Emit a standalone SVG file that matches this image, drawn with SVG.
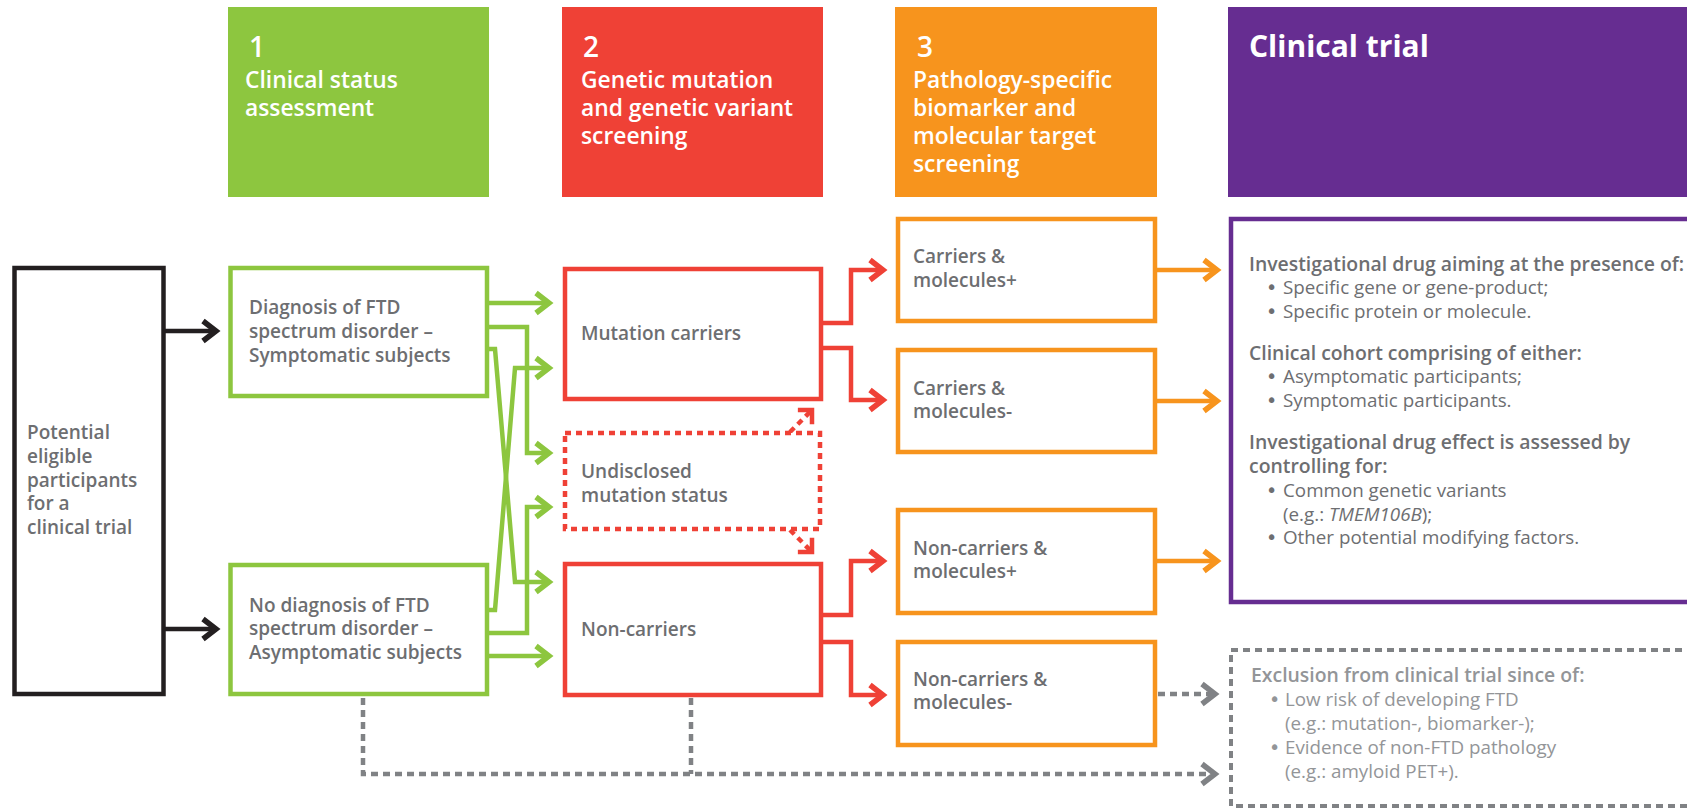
<svg xmlns="http://www.w3.org/2000/svg" width="1687" height="809" viewBox="0 0 1687 809">
<style>
.hdr{font-family:"Open Sans","Liberation Sans",sans-serif;font-weight:600;fill:#ffffff;font-size:22.8px}
.num{font-size:28px}
.big{font-size:30px;font-weight:700}
.lbl{font-family:"Open Sans","Liberation Sans",sans-serif;font-weight:600;fill:#6d6e71;font-size:19px}
.body{font-family:"Open Sans","Liberation Sans",sans-serif;fill:#6d6e71;font-size:18.8px}
.b{font-weight:600;font-size:19.4px}
.bul{font-size:19px;font-family:"DejaVu Sans",sans-serif}
.ex{fill:#939598}
.box{fill:#ffffff;stroke-width:4.5}
.conn{fill:none;stroke-width:4.5;stroke-linejoin:miter}
</style>
<defs>
<marker id="aK" markerUnits="userSpaceOnUse" viewBox="-20 -16 26 32" refX="0" refY="0" markerWidth="26" markerHeight="32" orient="auto"><path d="M-13,-10 L0,0 L-13,10" fill="none" stroke="#231f20" stroke-width="5.5"/></marker>
<marker id="aG" markerUnits="userSpaceOnUse" viewBox="-20 -16 26 32" refX="0" refY="0" markerWidth="26" markerHeight="32" orient="auto"><path d="M-13,-10 L0,0 L-13,10" fill="none" stroke="#8dc63f" stroke-width="5.5"/></marker>
<marker id="aR" markerUnits="userSpaceOnUse" viewBox="-20 -16 26 32" refX="0" refY="0" markerWidth="26" markerHeight="32" orient="auto"><path d="M-13,-10 L0,0 L-13,10" fill="none" stroke="#ef4136" stroke-width="5.5"/></marker>
<marker id="aRd" markerUnits="userSpaceOnUse" viewBox="-20 -16 26 32" refX="0" refY="0" markerWidth="26" markerHeight="32" orient="auto"><path d="M-10,-10 L0,0 L-10,10" fill="none" stroke="#ef4136" stroke-width="4.5"/></marker>
<marker id="aO" markerUnits="userSpaceOnUse" viewBox="-20 -16 26 32" refX="0" refY="0" markerWidth="26" markerHeight="32" orient="auto"><path d="M-13,-10 L0,0 L-13,10" fill="none" stroke="#f7941d" stroke-width="5.5"/></marker>
<marker id="aY" markerUnits="userSpaceOnUse" viewBox="-20 -16 26 32" refX="0" refY="0" markerWidth="26" markerHeight="32" orient="auto"><path d="M-13,-10 L0,0 L-13,10" fill="none" stroke="#808285" stroke-width="5.5"/></marker>
</defs>
<rect width="1687" height="809" fill="#ffffff"/>

<!-- headers -->
<g id="header1">
<rect x="228" y="7" width="261" height="190" fill="#8dc63f"/>
<text class="hdr num" x="249" y="57">1</text>
<text class="hdr" x="245" y="88">Clinical status</text>
<text class="hdr" x="245" y="116">assessment</text>
</g>
<g id="header2">
<rect x="562" y="7" width="261" height="190" fill="#ef4136"/>
<text class="hdr num" x="583" y="57">2</text>
<text class="hdr" x="581" y="88">Genetic mutation</text>
<text class="hdr" x="581" y="116">and genetic variant</text>
<text class="hdr" x="581" y="144">screening</text>
</g>
<g id="header3">
<rect x="895" y="7" width="262" height="190" fill="#f7941d"/>
<text class="hdr num" x="917" y="57">3</text>
<text class="hdr" x="913" y="88">Pathology-specific</text>
<text class="hdr" x="913" y="116">biomarker and</text>
<text class="hdr" x="913" y="144">molecular target</text>
<text class="hdr" x="913" y="172">screening</text>
</g>
<g id="header4">
<rect x="1228" y="7" width="470" height="190" fill="#662d91"/>
<text class="hdr big" x="1249" y="57">Clinical trial</text>
</g>

<!-- connectors -->
<g id="connectors">
<path class="conn" stroke="#231f20" d="M165,331 H216" marker-end="url(#aK)"/>
<path class="conn" stroke="#231f20" d="M165,629 H216" marker-end="url(#aK)"/>

<path class="conn" stroke="#8dc63f" d="M487,303 H549" marker-end="url(#aG)"/>
<path class="conn" stroke="#8dc63f" d="M487,327 H527 V453 H549" marker-end="url(#aG)"/>
<path class="conn" stroke="#8dc63f" d="M487,349 H495 L515,582 H549" marker-end="url(#aG)"/>
<path class="conn" stroke="#8dc63f" d="M487,610 H495 L515,368 H549" marker-end="url(#aG)"/>
<path class="conn" stroke="#8dc63f" d="M487,633 H527 V507 H549" marker-end="url(#aG)"/>
<path class="conn" stroke="#8dc63f" d="M487,656 H549" marker-end="url(#aG)"/>

<path class="conn" stroke="#ef4136" d="M821,323 H851 V270 H883" marker-end="url(#aR)"/>
<path class="conn" stroke="#ef4136" d="M821,348 H851 V400 H883" marker-end="url(#aR)"/>
<path class="conn" stroke="#ef4136" d="M821,615 H851 V561 H883" marker-end="url(#aR)"/>
<path class="conn" stroke="#ef4136" d="M821,642 H851 V695 H883" marker-end="url(#aR)"/>
<path class="conn" stroke="#ef4136" stroke-width="4" stroke-dasharray="6 5" d="M790,432 L812,410" marker-end="url(#aRd)"/>
<path class="conn" stroke="#ef4136" stroke-width="4" stroke-dasharray="6 5" d="M790,530 L812,552" marker-end="url(#aRd)"/>

<path class="conn" stroke="#f7941d" d="M1155,270 H1217" marker-end="url(#aO)"/>
<path class="conn" stroke="#f7941d" d="M1155,401 H1217" marker-end="url(#aO)"/>
<path class="conn" stroke="#f7941d" d="M1155,561 H1217" marker-end="url(#aO)"/>

<path class="conn" stroke="#808285" stroke-width="4" stroke-dasharray="7 5" d="M1158,694 H1215" marker-end="url(#aY)"/>
<path class="conn" stroke="#808285" stroke-width="4" stroke-dasharray="7 5" d="M363,698 V774 H1215" marker-end="url(#aY)"/>
<path class="conn" stroke="#808285" stroke-width="4" stroke-dasharray="7 5" d="M691,698 V774"/>
</g>

<!-- nodes -->
<g id="potential">
<rect class="box" x="14.5" y="268" width="149" height="426" stroke="#231f20"/>
<text class="lbl" x="27" y="439">Potential</text>
<text class="lbl" x="27" y="463">eligible</text>
<text class="lbl" x="27" y="487">participants</text>
<text class="lbl" x="27" y="510">for a</text>
<text class="lbl" x="27" y="534">clinical trial</text>
</g>
<g id="diagnosis">
<rect class="box" x="230.5" y="268" width="256.5" height="128" stroke="#8dc63f"/>
<text class="lbl" x="249" y="314">Diagnosis of FTD</text>
<text class="lbl" x="249" y="338">spectrum disorder –</text>
<text class="lbl" x="249" y="362">Symptomatic subjects</text>
</g>
<g id="nodiagnosis">
<rect class="box" x="230.5" y="565" width="256.5" height="129" stroke="#8dc63f"/>
<text class="lbl" x="249" y="612">No diagnosis of FTD</text>
<text class="lbl" x="249" y="635">spectrum disorder –</text>
<text class="lbl" x="249" y="659">Asymptomatic subjects</text>
</g>
<g id="carriers">
<rect class="box" x="565" y="269" width="256" height="130" stroke="#ef4136"/>
<text class="lbl" x="581" y="340">Mutation carriers</text>
</g>
<g id="undisclosed">
<rect class="box" x="565" y="433" width="255" height="96" stroke="#ef4136" stroke-width="4" stroke-dasharray="6 5"/>
<text class="lbl" x="581" y="478">Undisclosed</text>
<text class="lbl" x="581" y="502">mutation status</text>
</g>
<g id="noncarriers">
<rect class="box" x="565" y="564" width="256" height="131" stroke="#ef4136"/>
<text class="lbl" x="581" y="636">Non-carriers</text>
</g>
<g id="carriersPlus">
<rect class="box" x="898" y="219" width="257" height="102" stroke="#f7941d"/>
<text class="lbl" x="913" y="263">Carriers &amp;</text>
<text class="lbl" x="913" y="287">molecules+</text>
</g>
<g id="carriersMinus">
<rect class="box" x="898" y="350" width="257" height="102" stroke="#f7941d"/>
<text class="lbl" x="913" y="395">Carriers &amp;</text>
<text class="lbl" x="913" y="418">molecules-</text>
</g>
<g id="noncarriersPlus">
<rect class="box" x="898" y="510" width="257" height="103" stroke="#f7941d"/>
<text class="lbl" x="913" y="555">Non-carriers &amp;</text>
<text class="lbl" x="913" y="578">molecules+</text>
</g>
<g id="noncarriersMinus">
<rect class="box" x="898" y="642" width="257" height="103" stroke="#f7941d"/>
<text class="lbl" x="913" y="686">Non-carriers &amp;</text>
<text class="lbl" x="913" y="709">molecules-</text>
</g>
<g id="trial">
<rect class="box" x="1231" y="219" width="480" height="383" stroke="#662d91"/>
<text class="body b" x="1249" y="271">Investigational drug aiming at the presence of:</text>
<text class="body"><tspan class="bul" x="1266" y="294">•</tspan><tspan x="1283" y="294">Specific gene or gene-product;</tspan></text>
<text class="body"><tspan class="bul" x="1266" y="318">•</tspan><tspan x="1283" y="318">Specific protein or molecule.</tspan></text>
<text class="body b" x="1249" y="360">Clinical cohort comprising of either:</text>
<text class="body"><tspan class="bul" x="1266" y="383">•</tspan><tspan x="1283" y="383">Asymptomatic participants;</tspan></text>
<text class="body"><tspan class="bul" x="1266" y="407">•</tspan><tspan x="1283" y="407">Symptomatic participants.</tspan></text>
<text class="body b" x="1249" y="449">Investigational drug effect is assessed by</text>
<text class="body b" x="1249" y="473">controlling for:</text>
<text class="body"><tspan class="bul" x="1266" y="497">•</tspan><tspan x="1283" y="497">Common genetic variants</tspan></text>
<text class="body" x="1283" y="521">(e.g.: <tspan font-style="italic">TMEM106B</tspan>);</text>
<text class="body"><tspan class="bul" x="1266" y="544">•</tspan><tspan x="1283" y="544">Other potential modifying factors.</tspan></text>
</g>
<g id="exclusion">
<rect x="1231" y="650" width="480" height="156" fill="#ffffff" stroke="#808285" stroke-width="4" stroke-dasharray="7 5"/>
<text class="body b ex" x="1251" y="682">Exclusion from clinical trial since of:</text>
<text class="body ex"><tspan class="bul" x="1269" y="706">•</tspan><tspan x="1285" y="706">Low risk of developing FTD</tspan></text>
<text class="body ex" x="1285" y="730">(e.g.: mutation-, biomarker-);</text>
<text class="body ex"><tspan class="bul" x="1269" y="754">•</tspan><tspan x="1285" y="754">Evidence of non-FTD pathology</tspan></text>
<text class="body ex" x="1285" y="778">(e.g.: amyloid PET+).</text>
</g>
</svg>
